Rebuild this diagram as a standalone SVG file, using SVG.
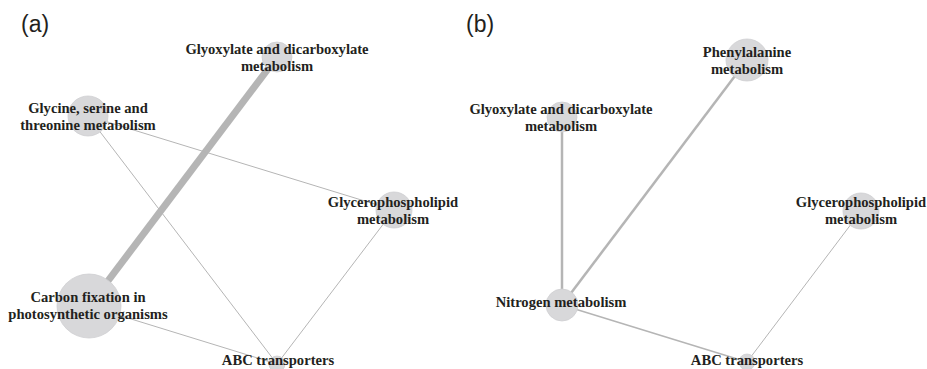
<svg xmlns="http://www.w3.org/2000/svg" width="927" height="369" viewBox="0 0 927 369">
<style>
.node{fill:#d8d8da;stroke:#cfcfd2;stroke-width:0.8}
.lbl{font-family:"Liberation Serif","Times New Roman",serif;font-weight:bold;font-size:14.6px;fill:#231f20;text-anchor:middle}
.panel{font-family:"Liberation Sans",Arial,sans-serif;font-size:23px;fill:#231f20}
.e{stroke:#b5b5b5;fill:none;stroke-linecap:butt}
</style>
<rect width="927" height="369" fill="#ffffff"/>
<text class="panel" x="21" y="32">(a)</text>
<text class="panel" x="466" y="32">(b)</text>
<g id="connectors">
<line class="e" x1="277" y1="57" x2="89" y2="306" stroke-width="7"/>
<line class="e" x1="88" y1="116" x2="277" y2="364" stroke-width="1"/>
<line class="e" x1="88" y1="116" x2="394" y2="210" stroke-width="1"/>
<line class="e" x1="394" y1="210" x2="277" y2="364" stroke-width="1"/>
<line class="e" x1="89" y1="306" x2="277" y2="364" stroke-width="1"/>
<line class="e" x1="562" y1="117" x2="562" y2="305" stroke-width="2.5"/>
<line class="e" x1="747" y1="60" x2="562" y2="305" stroke-width="2.5"/>
<line class="e" x1="562" y1="305" x2="747" y2="362" stroke-width="1.5"/>
<line class="e" x1="861" y1="211" x2="747" y2="362" stroke-width="1"/>
</g>
<g id="a-glyoxylate"><circle class="node" cx="277" cy="57" r="15"/><text class="lbl" x="277" y="54">Glyoxylate and dicarboxylate</text><text class="lbl" x="277" y="71">metabolism</text></g>
<g id="a-glycine"><circle class="node" cx="88" cy="116" r="20"/><text class="lbl" x="88" y="113">Glycine, serine and</text><text class="lbl" x="88" y="130">threonine metabolism</text></g>
<g id="a-glycerophospholipid"><circle class="node" cx="394" cy="210" r="18"/><text class="lbl" x="393" y="207">Glycerophospholipid</text><text class="lbl" x="393" y="224">metabolism</text></g>
<g id="a-carbon"><circle class="node" cx="89" cy="306" r="32"/><text class="lbl" x="88" y="302">Carbon fixation in</text><text class="lbl" x="88" y="319">photosynthetic organisms</text></g>
<g id="a-abc"><circle class="node" cx="277" cy="364" r="8"/><text class="lbl" x="278" y="365">ABC transporters</text></g>
<g id="b-phenylalanine"><circle class="node" cx="747" cy="60" r="21"/><text class="lbl" x="747" y="57">Phenylalanine</text><text class="lbl" x="747" y="74">metabolism</text></g>
<g id="b-glyoxylate"><circle class="node" cx="562" cy="117" r="15"/><text class="lbl" x="561" y="114">Glyoxylate and dicarboxylate</text><text class="lbl" x="561" y="131">metabolism</text></g>
<g id="b-nitrogen"><circle class="node" cx="562" cy="305" r="16"/><text class="lbl" x="561" y="307">Nitrogen metabolism</text></g>
<g id="b-glycerophospholipid"><circle class="node" cx="861" cy="211" r="18"/><text class="lbl" x="861" y="207">Glycerophospholipid</text><text class="lbl" x="861" y="224">metabolism</text></g>
<g id="b-abc"><circle class="node" cx="747" cy="362" r="8"/><text class="lbl" x="747" y="365">ABC transporters</text></g>
</svg>
